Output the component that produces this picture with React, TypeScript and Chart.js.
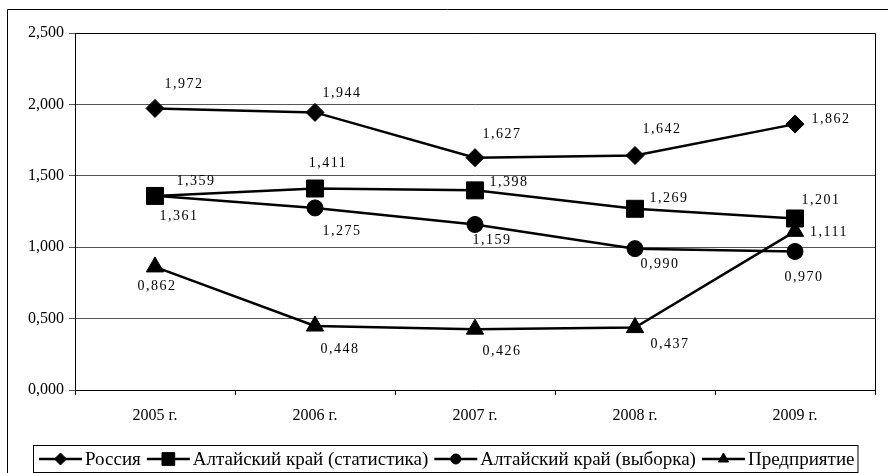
import React, { useEffect, useRef } from "react";
import { Chart, registerables } from "chart.js";
import { drawPoint } from "chart.js/helpers";

Chart.register(...registerables);

const categories = ["2005 г.", "2006 г.", "2007 г.", "2008 г.", "2009 г."];
const russia = [1.972, 1.944, 1.627, 1.642, 1.862];
const altaiStat = [1.359, 1.411, 1.398, 1.269, 1.201];
const altaiSample = [1.361, 1.275, 1.159, 0.99, 0.97];
const enterprise = [0.862, 0.448, 0.426, 0.437, 1.111];
const seriesNames = [
  "Россия",
  "Алтайский край (статистика)",
  "Алтайский край (выборка)",
  "Предприятие",
];
const yMin = 0;
const yMax = 2.5;
const yStep = 0.5;

// label placement relative to each point (px)
const labelOffsets = [
  [[29, -24], [27, -19], [27, -23], [27, -26], [36, -5]],
  [[41, -15], [13, -25], [34, -8], [34, -10], [26, -18]],
  [[24, 21], [27, 23], [17, 16], [25, 16], [9, 26]],
  [[2, 19], [25, 23], [27, 22], [35, 17], [34, 1]],
];

const pointStyles = ["rectRot", "rect", "circle", "triangle"];
const pointRadii = [9, 12, 8, 10];
const legendRadii = [6, 9, 5, 6];

const fmt = (v: number) => v.toFixed(3).replace(".", ",");
const SERIF = "'Liberation Serif', 'Times New Roman', serif";

const decor = {
  id: "decor",
  beforeDraw(chart: any) {
    const { ctx, width, height } = chart;
    ctx.save();
    ctx.fillStyle = "#fff";
    ctx.fillRect(0, 0, width, height);
    ctx.restore();
  },
  afterDraw(chart: any) {
    const { ctx, chartArea } = chart;
    ctx.save();
    // plot area border
    ctx.strokeStyle = "#000";
    ctx.lineWidth = 1;
    ctx.beginPath();
    ctx.moveTo(chartArea.left, chartArea.top + 0.5);
    ctx.lineTo(chartArea.right + 0.5, chartArea.top + 0.5);
    ctx.lineTo(chartArea.right + 0.5, chartArea.bottom);
    ctx.stroke();
    // outer frame
    ctx.beginPath();
    ctx.moveTo(7.5, chart.height);
    ctx.lineTo(7.5, 9.5);
    ctx.lineTo(chart.width, 9.5);
    ctx.stroke();

    // data labels
    ctx.fillStyle = "#000";
    ctx.font = `14px ${SERIF}`;
    (ctx as any).letterSpacing = "1.5px";
    ctx.textAlign = "center";
    ctx.textBaseline = "middle";
    chart.data.datasets.forEach((ds: any, i: number) => {
      const meta = chart.getDatasetMeta(i);
      meta.data.forEach((pt: any, j: number) => {
        const [dx, dy] = labelOffsets[i][j];
        ctx.fillText(fmt(ds.data[j]), pt.x + dx, pt.y + dy);
      });
    });
    (ctx as any).letterSpacing = "0px";

    // legend
    const ly = 459;
    const boxLeft = 33;
    let x = 39;
    ctx.font = `19px ${SERIF}`;
    ctx.textAlign = "left";
    ctx.textBaseline = "middle";
    chart.data.datasets.forEach((ds: any, i: number) => {
      ctx.strokeStyle = "#000";
      ctx.lineWidth = 2.5;
      ctx.beginPath();
      ctx.moveTo(x, ly);
      ctx.lineTo(x + 43, ly);
      ctx.stroke();
      ctx.fillStyle = "#000";
      ctx.lineWidth = 1;
      drawPoint(
        ctx,
        { pointStyle: pointStyles[i], radius: legendRadii[i], rotation: 0, borderWidth: 1 } as any,
        x + 21.5,
        ly
      );
      ctx.fillStyle = "#000";
      ctx.fillText(ds.label, x + 46, ly + 1);
      x = x + 46 + ctx.measureText(ds.label).width + 6;
    });
    ctx.strokeStyle = "#000";
    ctx.lineWidth = 1;
    ctx.strokeRect(boxLeft + 0.5, 445.5, x - 3 - boxLeft, 27);
    ctx.restore();
  },
};

export default function App() {
  const ref = useRef<HTMLCanvasElement | null>(null);
  useEffect(() => {
    if (!ref.current) return;
    const series = [russia, altaiStat, altaiSample, enterprise];
    const chart = new Chart(ref.current, {
      type: "line",
      data: {
        labels: categories,
        datasets: series.map((d, i) => ({
          label: seriesNames[i],
          data: d,
          borderColor: "#000",
          backgroundColor: "#000",
          borderWidth: 2.5,
          tension: 0,
          pointStyle: pointStyles[i] as any,
          pointRadius: pointRadii[i],
          pointBackgroundColor: "#000",
          pointBorderColor: "#000",
          pointBorderWidth: 1,
        })),
      },
      options: {
        responsive: false,
        animation: false,
        devicePixelRatio: 1,
        layout: { padding: { top: 33, right: 13, left: 0, bottom: 0 } },
        plugins: {
          legend: { display: false },
          tooltip: { enabled: false },
        },
        scales: {
          x: {
            type: "category",
            offset: true,
            grid: {
              display: true,
              drawOnChartArea: false,
              offset: true,
              tickLength: 5,
              color: "#000",
            },
            border: { color: "#000", width: 1 },
            ticks: {
              color: "#000",
              font: { family: SERIF, size: 16 },
              padding: 11,
              maxRotation: 0,
            },
            afterFit: (s: any) => {
              s.height = 83;
            },
          },
          y: {
            min: yMin,
            max: yMax,
            ticks: {
              stepSize: yStep,
              color: "#000",
              font: { family: SERIF, size: 16 },
              padding: 5,
              callback: (v: any) => fmt(Number(v)),
            },
            grid: { color: "#555", lineWidth: 1, tickLength: 6 },
            border: { color: "#000", width: 1 },
            afterFit: (s: any) => {
              s.width = 75;
            },
          },
        },
      },
      plugins: [decor],
    });
    return () => chart.destroy();
  }, []);
  return (
    <div style={{ position: "absolute", left: 0, top: 0, width: 888, height: 473, background: "#fff" }}>
      <canvas ref={ref} width={888} height={473} style={{ display: "block" }} />
    </div>
  );
}
